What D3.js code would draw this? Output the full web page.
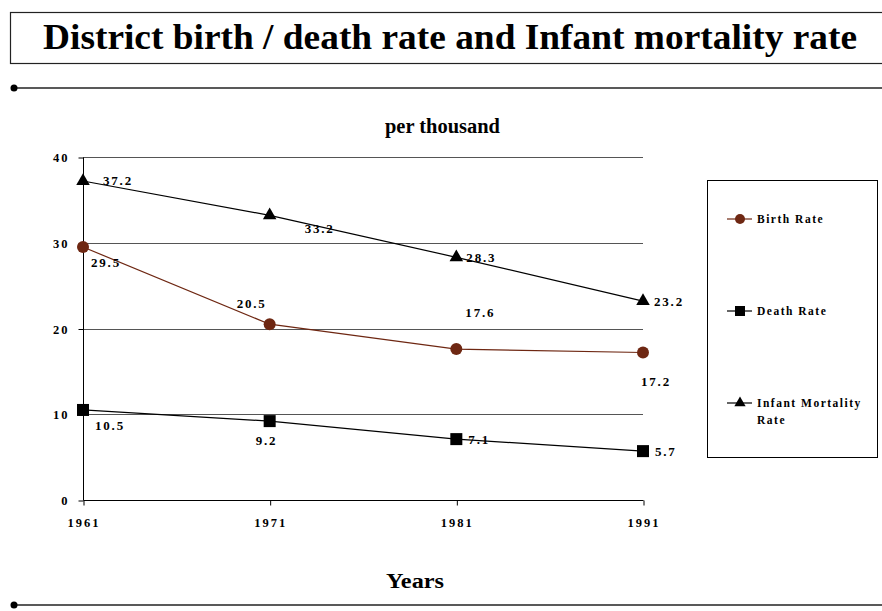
<!DOCTYPE html>
<html>
<head>
<meta charset="utf-8">
<script src="https://cdn.jsdelivr.net/npm/d3@7"></script>
<style>
  body { margin: 0; background: #fff; }
  svg { display: block; font-family: "Liberation Serif", "Times New Roman", serif; font-weight: bold; }
</style>
</head>
<body>
<div id="vis"></div>
<script>
// data
var years = [1961, 1971, 1981, 1991];
var birthRate = [29.5, 20.5, 17.6, 17.2];
var deathRate = [10.5, 9.2, 7.1, 5.7];
var infantRate = [37.2, 33.2, 28.3, 23.2];
var yTicks = [0, 10, 20, 30, 40];

// label nudges (dx, dy) for each point label
var birthLabelPos = [[8, 20], [-33, -16], [9, -32], [-2, 33]];
var deathLabelPos = [[12, 20], [-14, 24], [12, 5], [12, 5]];
var infantLabelPos = [[20, 4], [35, 18], [10, 5], [11, 5]];

var width = 882, height = 611;
var brown = "#6e2712";

var svg = d3.select("#vis").append("svg")
    .attr("width", width)
    .attr("height", height);

// title box
svg.append("rect")
    .attr("x", 10.5).attr("y", 12.5)
    .attr("width", 880).attr("height", 51)
    .attr("fill", "none").attr("stroke", "#222").attr("stroke-width", 1.2);

svg.append("text")
    .attr("x", 43).attr("y", 49)
    .attr("font-size", 36)
    .attr("textLength", 814)
    .attr("lengthAdjust", "spacingAndGlyphs")
    .text("District birth / death rate and Infant mortality rate");

// rules with dots
[88, 605].forEach(function(y) {
    svg.append("line")
        .attr("x1", 14).attr("x2", 882)
        .attr("y1", y).attr("y2", y)
        .attr("stroke", "#222").attr("stroke-width", 1.3);
    svg.append("circle")
        .attr("cx", 14).attr("cy", y).attr("r", 3.5).attr("fill", "#000");
});

svg.append("text")
    .attr("x", 385).attr("y", 133)
    .attr("font-size", 20)
    .attr("textLength", 115)
    .attr("lengthAdjust", "spacingAndGlyphs")
    .text("per thousand");

svg.append("text")
    .attr("x", 386).attr("y", 588)
    .attr("font-size", 20)
    .attr("textLength", 58)
    .attr("lengthAdjust", "spacingAndGlyphs")
    .text("Years");

// scales
var x = d3.scalePoint().domain(years).range([83, 643]);
var y = d3.scaleLinear().domain([0, 40]).range([500, 157]);

// gridlines
svg.append("g")
    .selectAll("line")
    .data(yTicks.filter(function(d) { return d > 0; }))
    .enter()
    .append("line")
    .attr("x1", 83).attr("x2", 643)
    .attr("y1", function(d) { return Math.round(y(d)) + 0.5; })
    .attr("y2", function(d) { return Math.round(y(d)) + 0.5; })
    .attr("stroke", "#555").attr("stroke-width", 1);

// axes
var yAxis = d3.axisLeft(y).tickValues(yTicks).tickSize(5).tickPadding(9);
var gy = svg.append("g")
    .attr("transform", "translate(83.5,0.5)")
    .call(yAxis);
gy.selectAll("text")
    .attr("font-size", 12.5)
    .attr("font-family", "Liberation Serif, serif")
    .attr("font-weight", "bold")
    .attr("letter-spacing", "2px")
    .attr("fill", "#000");
gy.selectAll("line, path").attr("stroke", "#000");
gy.select(".domain").attr("d", "M0," + y(0) + "V" + y(40));

var xAxis = d3.axisBottom(x).tickSize(5).tickPadding(13);
var gx = svg.append("g")
    .attr("transform", "translate(0.5," + (y(0) + 0.5) + ")")
    .call(xAxis);
gx.selectAll("text")
    .attr("font-size", 12.5)
    .attr("font-family", "Liberation Serif, serif")
    .attr("font-weight", "bold")
    .attr("letter-spacing", "2px")
    .attr("fill", "#000");
gx.selectAll("line, path").attr("stroke", "#000");
gx.select(".domain").attr("d", "M" + x(1961) + ",0H" + x(1991));

// series
var series = [
    { name: "Birth Rate", values: birthRate, color: brown, marker: "circle", labels: birthLabelPos },
    { name: "Death Rate", values: deathRate, color: "#000", marker: "square", labels: deathLabelPos },
    { name: "Infant Mortality Rate", values: infantRate, color: "#000", marker: "triangle", labels: infantLabelPos }
];

var line = d3.line()
    .x(function(d, i) { return x(years[i]); })
    .y(function(d) { return y(d); });

function drawMarker(g, type, color, size) {
    if (type === "circle") {
        g.append("circle").attr("r", size / 2).attr("fill", color);
    } else if (type === "square") {
        g.append("rect").attr("x", -size / 2).attr("y", -size / 2)
            .attr("width", size).attr("height", size).attr("fill", color);
    } else {
        g.append("path")
            .attr("d", d3.symbol().type(d3.symbolTriangle).size(size * size * 0.55)())
            .attr("fill", color);
    }
}

series.forEach(function(s) {
    svg.append("path")
        .attr("d", line(s.values))
        .attr("fill", "none")
        .attr("stroke", s.color)
        .attr("stroke-width", 1.2);

    s.values.forEach(function(v, i) {
        var g = svg.append("g")
            .attr("transform", "translate(" + x(years[i]) + "," + y(v) + ")");
        drawMarker(g, s.marker, s.color, 12);
    });

    svg.append("g")
        .selectAll("text")
        .data(s.values)
        .enter()
        .append("text")
        .attr("x", function(d, i) { return x(years[i]) + s.labels[i][0]; })
        .attr("y", function(d, i) { return y(d) + s.labels[i][1]; })
        .attr("font-size", 13)
        .attr("letter-spacing", "1.8px")
        .text(function(d) { return d.toFixed(1); });
});

// legend
svg.append("rect")
    .attr("x", 707.5).attr("y", 180.5)
    .attr("width", 170).attr("height", 277)
    .attr("fill", "none").attr("stroke", "#000").attr("stroke-width", 1);

var legendY = [219, 311, 403];
series.forEach(function(s, i) {
    var ly = legendY[i];
    svg.append("line")
        .attr("x1", 727).attr("x2", 752)
        .attr("y1", ly).attr("y2", ly)
        .attr("stroke", s.color).attr("stroke-width", 1.2);
    var g = svg.append("g").attr("transform", "translate(740," + ly + ")");
    drawMarker(g, s.marker, s.color, 10);
    var t = svg.append("text")
        .attr("x", 757).attr("y", ly + 4)
        .attr("font-size", 11.5)
        .attr("letter-spacing", "1.5px");
    if (s.name === "Infant Mortality Rate") {
        t.append("tspan").text("Infant Mortality");
        t.append("tspan").attr("x", 757).attr("dy", 17).text("Rate");
    } else {
        t.text(s.name);
    }
});
</script>
</body>
</html>
